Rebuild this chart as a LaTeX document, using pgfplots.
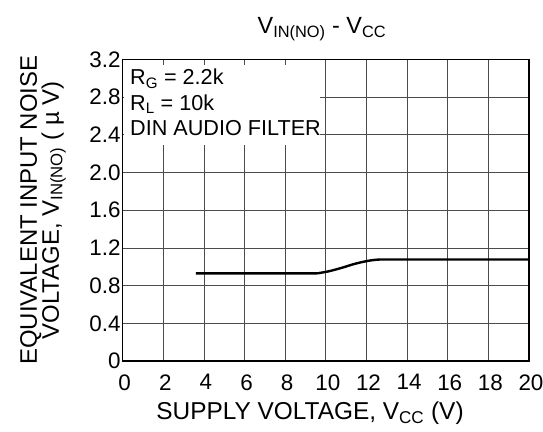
\documentclass[border=0pt]{standalone}
\usepackage{pgfplots}
\pgfplotsset{compat=1.18}
\usepackage{fontspec}
\setmainfont{Liberation Sans}
\begin{document}
\begin{tikzpicture}
\path[use as bounding box] (-122.7bp,-71bp) rectangle (420.3bp,361bp);
\begin{axis}[
  at={(0,0)}, anchor=south west,
  scale only axis, width=406.3bp, height=301.5bp,
  xmin=0, xmax=20, ymin=0, ymax=3.2,
  xtick={0,2,...,20},
  ytick={0,0.4,0.8,1.2,1.6,2.0,2.4,2.8,3.2},
  yticklabels={0,0.4,0.8,1.2,1.6,2.0,2.4,2.8,3.2},
  /pgf/number format/assume math mode=true,
  ticklabel style={font=\fontsize{22.5}{22.5}\selectfont},
  yticklabel style={inner sep=1bp, xshift=-1bp},
  xticklabel style={yshift=-10bp, xshift=2bp},
  major tick length=0pt,
  grid=major,
  grid style={black!70, line width=0.8bp},
  axis line style={line width=1.2bp},
  title={V\textsubscript{IN(NO)} - V\textsubscript{CC}},
  title style={at={(axis description cs:0.4905,1.082)}, anchor=center, font=\fontsize{23.5}{23.5}\selectfont},
  xlabel={SUPPLY VOLTAGE, V\textsubscript{CC} (V)},
  xlabel style={at={(axis description cs:0.461,-0.173)}, anchor=center, font=\fontsize{24.5}{24.5}\selectfont},
  ylabel={EQUIVALENT INPUT NOISE\\VOLTAGE, V\textsubscript{IN(NO)} ( \textmu\ V)},
  ylabel style={at={(axis description cs:-0.196,0.5)}, anchor=center, align=center, font=\fontsize{24}{22}\selectfont},
]
\addplot[black, line width=2.4bp, smooth, tension=0.4] coordinates {
  (3.6,0.93) (9.2,0.93) (9.7,0.935) (10.2,0.955) (10.8,0.99) (11.4,1.03) (12.0,1.06) (12.5,1.075) (13.2,1.077) (20,1.077)
};
\fill[white] (axis cs:0.065,2.293) rectangle (axis cs:9.71,3.142);
\node[anchor=base west, inner sep=0pt, font=\fontsize{21.7}{21.7}\selectfont] at (axis cs:0.36,2.93) {R\textsubscript{G} = 2.2k};
\node[anchor=base west, inner sep=0pt, font=\fontsize{21.7}{21.7}\selectfont] at (axis cs:0.36,2.657) {R\textsubscript{L} = 10k};
\node[anchor=base west, inner sep=0pt, font=\fontsize{21.7}{21.7}\selectfont] at (axis cs:0.36,2.389) {DIN AUDIO FILTER};
\end{axis}
\end{tikzpicture}
\end{document}
